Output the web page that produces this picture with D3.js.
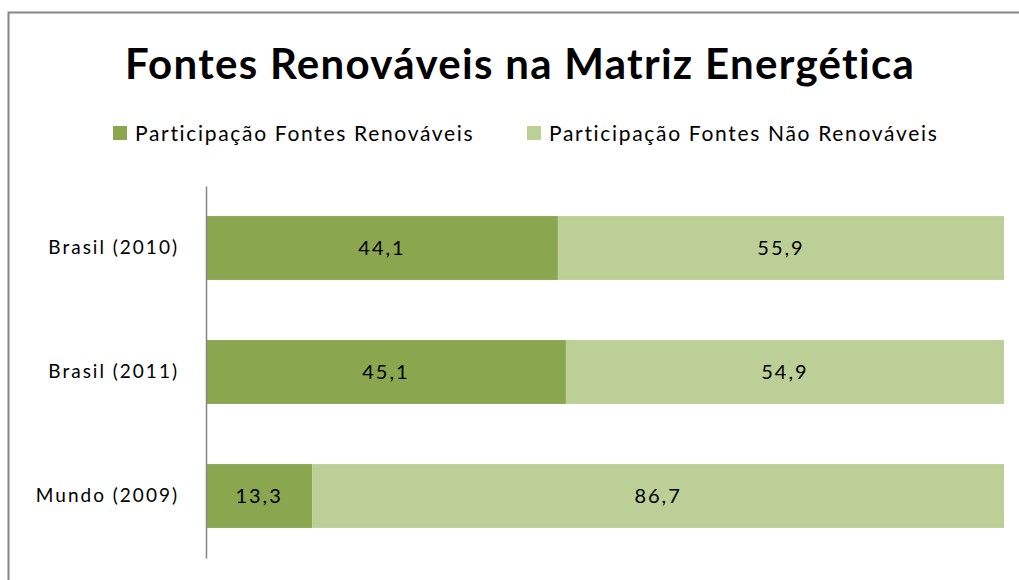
<!DOCTYPE html>
<html><head><meta charset="utf-8">
<script src="https://cdn.jsdelivr.net/npm/d3@7"></script>
<style>body{margin:0;background:#fff}svg{display:block}</style>
</head><body>
<svg id="c" width="1019" height="580"></svg>
<script>
const categories = ["Brasil (2010)", "Brasil (2011)", "Mundo (2009)"];
const renovaveis = [44.1, 45.1, 13.3];
const naoRenovaveis = [55.9, 54.9, 86.7];
const seriesNames = ["Participação Fontes Renováveis", "Participação Fontes Não Renováveis"];
const colors = ["#8aa64f", "#bbcf96"];
const title = "Fontes Renováveis na Matriz Energética";

const svg = d3.select("#c");
const font = "Lato, 'Open Sans', sans-serif";

svg.append("rect").attr("x", 8.5).attr("y", 12.5).attr("width", 1030).attr("height", 600)
  .attr("fill", "#fff").attr("stroke", "#868686").attr("stroke-width", 2);

svg.append("text").attr("x", 520).attr("y", 79).attr("text-anchor", "middle")
  .attr("font-family", font).attr("font-weight", "bold").attr("font-size", 42)
  .attr("letter-spacing", 1.3)
  .attr("fill", "#000").text(title);

const x = d3.scaleLinear().domain([0, 100]).range([206, 1004]);
const y = d3.scaleBand().domain(categories).range([186, 558]).paddingInner(0.485).paddingOuter(0.2425);

const data = categories.map((c, i) => ({cat: c, vals: [renovaveis[i], naoRenovaveis[i]]}));
const stack = d3.stack().keys([0, 1]).value((d, k) => d.vals[k]);
const layers = stack(data);

const fmt = v => v.toFixed(1).replace(".", ",");

layers.forEach((layer, k) => {
  const g = svg.append("g");
  g.selectAll("rect").data(layer).join("rect")
    .attr("x", d => x(d[0])).attr("y", d => y(d.data.cat))
    .attr("width", d => x(d[1]) - x(d[0])).attr("height", y.bandwidth())
    .attr("fill", colors[k]);
  g.selectAll("text").data(layer).join("text")
    .attr("x", d => (x(d[0]) + x(d[1])) / 2).attr("y", d => y(d.data.cat) + y.bandwidth() / 2)
    .attr("dy", "0.36em").attr("text-anchor", "middle")
    .attr("font-family", font).attr("font-size", 20).attr("letter-spacing", 2).attr("fill", "#000")
    .text(d => fmt(d[1] - d[0]));
});

const yAxis = svg.append("g").attr("transform", "translate(206,0)")
  .call(d3.axisLeft(y).tickSize(0).tickPadding(27));
yAxis.select(".domain").attr("stroke", "#868686").attr("stroke-width", 1.5);
yAxis.selectAll("text").attr("font-family", font).attr("font-size", 19)
  .attr("letter-spacing", 2).attr("fill", "#000");

const legendX = [113, 527];
seriesNames.forEach((n, i) => {
  svg.append("rect").attr("x", legendX[i]).attr("y", 126).attr("width", 14).attr("height", 14).attr("fill", colors[i]);
  svg.append("text").attr("x", legendX[i] + 22).attr("y", 141)
    .attr("font-family", font).attr("font-size", 21).attr("letter-spacing", 1.68)
    .attr("fill", "#000").text(n);
});
</script>
</body></html>
